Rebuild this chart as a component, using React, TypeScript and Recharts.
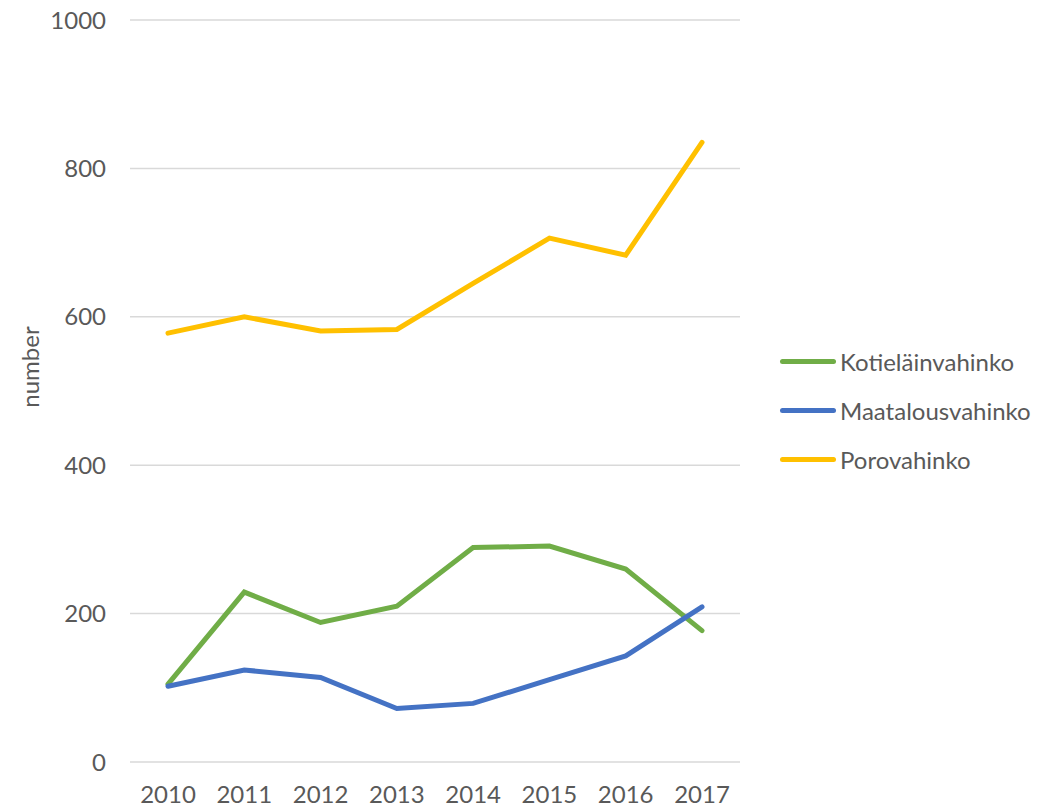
import React from 'react';
import { LineChart, Line, XAxis, YAxis, CartesianGrid } from 'recharts';

const years = ['2010', '2011', '2012', '2013', '2014', '2015', '2016', '2017'];
const kotielain = [105, 229, 188, 210, 289, 291, 260, 177];
const maatalous = [102, 124, 114, 72, 79, 111, 143, 209];
const porovahinko = [578, 600, 581, 583, 645, 706, 683, 835];
const yTicks = [0, 200, 400, 600, 800, 1000];

const seriesInfo = [
  { key: 'Kotieläinvahinko', color: '#70AD47' },
  { key: 'Maatalousvahinko', color: '#4472C4' },
  { key: 'Porovahinko', color: '#FFC000' },
];

const data = years.map((y, i) => ({
  year: y,
  'Kotieläinvahinko': kotielain[i],
  'Maatalousvahinko': maatalous[i],
  'Porovahinko': porovahinko[i],
}));

const font = 'Lato, "Open Sans", sans-serif';
const textColor = '#595959';

function LegendBox() {
  return (
    <div style={{ position: 'absolute', left: 780, top: 337, fontFamily: font, fontSize: 24, color: textColor }}>
      {seriesInfo.map(s => (
        <div key={s.key} style={{ display: 'flex', alignItems: 'center', height: 49 }}>
          <span style={{ display: 'inline-block', width: 56, height: 5, borderRadius: 3, background: s.color, marginRight: 4 }} />
          <span>{s.key}</span>
        </div>
      ))}
    </div>
  );
}

export default function App() {
  return (
    <div style={{ position: 'absolute', left: 0, top: 0, width: 1063, height: 806, background: '#fff' }}>
      <LineChart width={1063} height={806} data={data} margin={{ top: 20, right: 323, left: 50, bottom: 4 }}>
        <CartesianGrid vertical={false} stroke="#D9D9D9" strokeWidth={1.5} />
        <XAxis
          dataKey="year"
          axisLine={false}
          tickLine={false}
          tickSize={0}
          tickMargin={24}
          height={40}
          padding={{ left: 38, right: 38 }}
          tick={{ fontSize: 24, fill: textColor, fontFamily: font }}
        />
        <YAxis
          domain={[0, 1000]}
          ticks={yTicks}
          axisLine={false}
          tickLine={false}
          tickSize={0}
          tickMargin={24}
          width={80}
          tick={{ fontSize: 24, fill: textColor, fontFamily: font }}
          label={{
            value: 'number',
            angle: -90,
            position: 'insideLeft',
            offset: -20,
            dy: -24,
            style: { fontSize: 24, fill: textColor, fontFamily: font, textAnchor: 'middle' },
          }}
        />
        {seriesInfo.map(s => (
          <Line
            key={s.key}
            type="linear"
            dataKey={s.key}
            stroke={s.color}
            strokeWidth={5}
            dot={false}
            activeDot={false}
            strokeLinecap="round"
            isAnimationActive={false}
          />
        ))}
      </LineChart>
      <LegendBox />
    </div>
  );
}
